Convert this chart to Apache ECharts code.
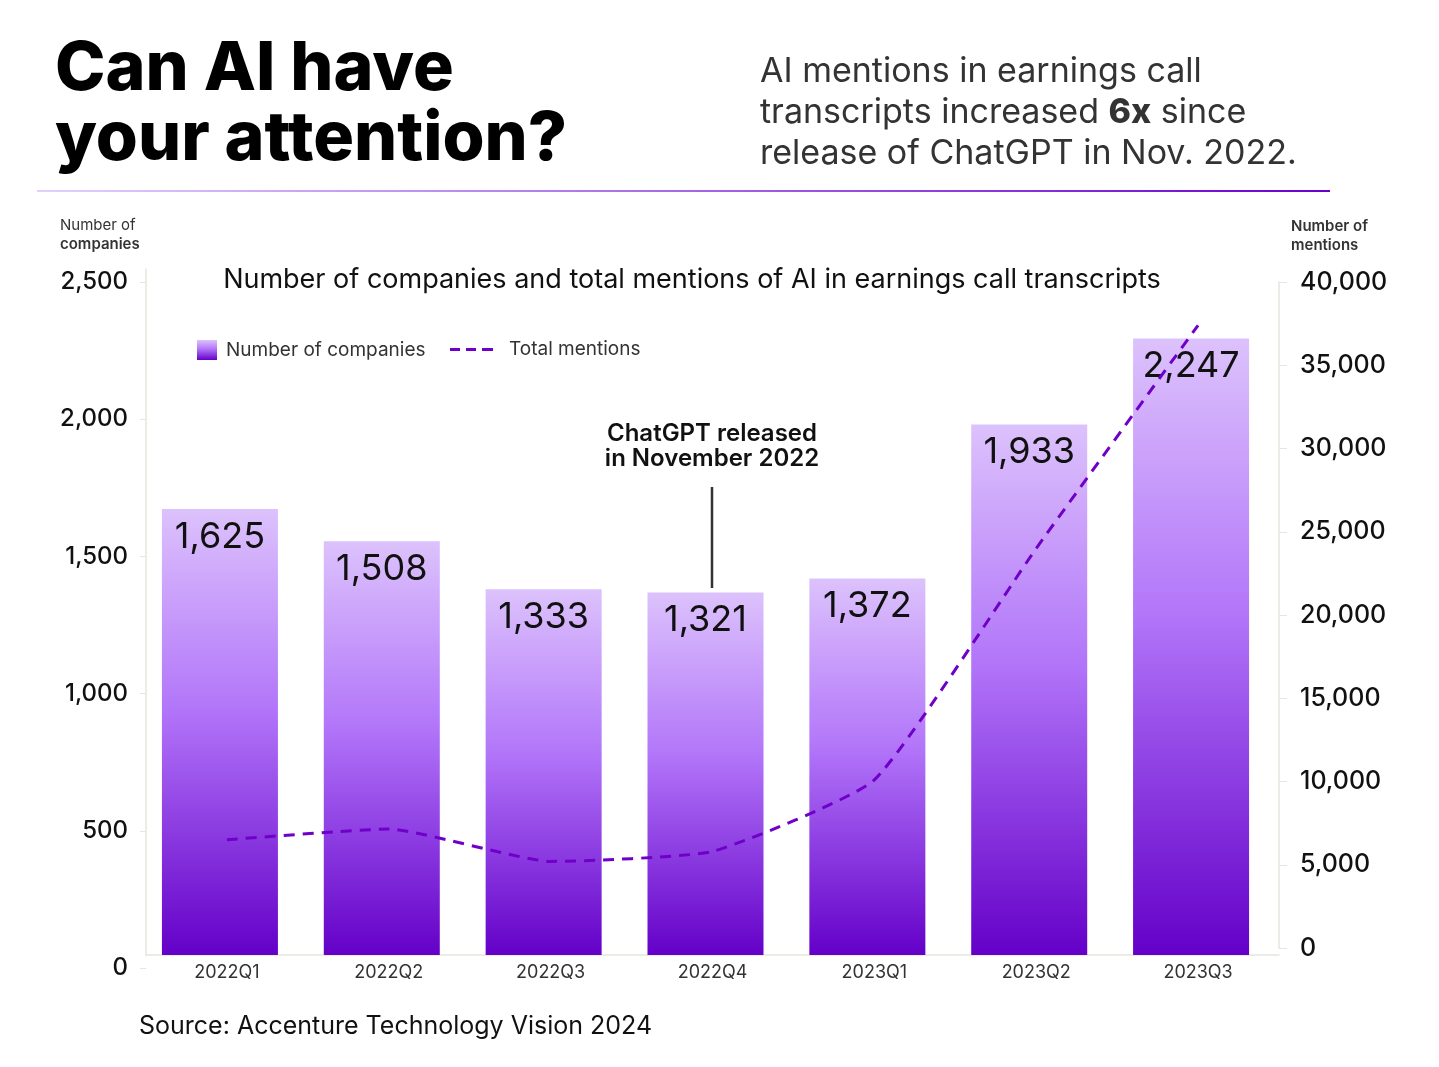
<!DOCTYPE html>
<html>
<head>
<meta charset="utf-8">
<script src="https://cdn.jsdelivr.net/npm/echarts@6/dist/echarts.min.js"></script>
<style>
  html, body { margin: 0; padding: 0; background: #fff; }
  #chart { width: 1439px; height: 1067px; }
</style>
</head>
<body>
<div id="chart"></div>
<script>
// data
var quarters = ['2022Q1', '2022Q2', '2022Q3', '2022Q4', '2023Q1', '2023Q2', '2023Q3']
var companies = [1625, 1508, 1333, 1321, 1372, 1933, 2247]
var mentions = [6500, 7150, 5200, 5800, 10100, 24000, 37400]
var companyTicks = [0, 2500, 500]   // min, max, interval
var mentionTicks = [0, 40000, 5000]

var FONT = 'Inter, "Noto Sans", sans-serif'
var axisGrey = '#e6e6de'
var purple = '#6f00c8'

var barGradient = new echarts.graphic.LinearGradient(0, 0, 0, 1, [
    { offset: 0, color: '#dcc2fc' },
    { offset: 0.45, color: '#b275f9' },
    { offset: 1, color: '#6400c8' }
])

var fmt = function (v) { return v.toLocaleString('en-US') }

var chart = echarts.init(document.getElementById('chart'))

var option = {
    backgroundColor: '#fff',
    textStyle: { fontFamily: FONT },
    grid: [
        // visible frame: x axis + left axis line
        { left: 146, right: 160, top: 269, bottom: 112 },
        // line (right axis)
        { left: 146, right: 160, top: 282, bottom: 119 },
        // left axis labels
        { left: 146, right: 160, top: 282, bottom: 99 },
        // bars, sitting a little left of the category centres as in the original
        { left: 139, right: 167, top: 269, bottom: 112 }
    ],
    legend: [
        {
            left: 192, top: 335,
            itemWidth: 20, itemHeight: 20,
            data: [{ name: 'Number of companies', icon: 'rect' }],
            textStyle: { fontFamily: FONT, fontSize: 19, color: '#333', padding: [0, 0, 0, 4] }
        },
        {
            left: 445, top: 335,
            itemWidth: 43, itemHeight: 3,
            data: [{
                name: 'Total mentions',
                icon: 'path://M0,0h10v3h-10z M16,0h10v3h-10z M32,0h11v3h-11z'
            }],
            textStyle: { fontFamily: FONT, fontSize: 19, color: '#333', padding: [0, 0, 0, 11] }
        }
    ],
    xAxis: [
        {
            type: 'category', gridIndex: 0, data: quarters,
            axisLine: { lineStyle: { color: axisGrey, width: 1.5 } },
            axisTick: { inside: true, length: 17, lineStyle: { color: axisGrey } },
            axisLabel: { margin: 9, fontSize: 18, color: '#333', fontFamily: FONT }
        },
        { type: 'category', gridIndex: 1, data: quarters, show: false },
        { type: 'category', gridIndex: 2, data: quarters, show: false },
        { type: 'category', gridIndex: 3, data: quarters, show: false }
    ],
    yAxis: [
        {
            type: 'value', gridIndex: 0,
            min: companyTicks[0], max: companyTicks[1], interval: companyTicks[2],
            axisLine: { show: true, lineStyle: { color: axisGrey, width: 1.5 } },
            axisTick: { show: false },
            axisLabel: { show: false },
            splitLine: { show: false }
        },
        {
            type: 'value', gridIndex: 1, position: 'right',
            min: mentionTicks[0], max: mentionTicks[1], interval: mentionTicks[2],
            axisLine: { show: true, lineStyle: { color: axisGrey, width: 1.5 } },
            axisTick: { show: true, length: 8, lineStyle: { color: axisGrey } },
            axisLabel: {
                margin: 21, fontSize: 25, fontWeight: 500, color: '#111', fontFamily: FONT,
                formatter: fmt
            },
            splitLine: { show: false }
        },
        {
            type: 'value', gridIndex: 2,
            min: companyTicks[0], max: companyTicks[1], interval: companyTicks[2],
            axisLine: { show: false },
            axisTick: { show: true, length: 6, lineStyle: { color: axisGrey } },
            axisLabel: {
                margin: 18, fontSize: 24, fontWeight: 500, color: '#111', fontFamily: FONT,
                formatter: fmt
            },
            splitLine: { show: false }
        },
        {
            type: 'value', gridIndex: 3, show: false,
            min: companyTicks[0], max: companyTicks[1], interval: companyTicks[2]
        }
    ],
    series: [
        {
            name: 'Number of companies',
            type: 'bar', xAxisIndex: 3, yAxisIndex: 3,
            data: companies,
            barWidth: 116,
            itemStyle: { color: barGradient },
            label: {
                show: true, position: 'insideTop', distance: 10,
                fontSize: 36, color: '#111', fontFamily: FONT,
                formatter: function (p) { return fmt(p.value) }
            },
            z: 2
        },
        {
            name: 'Total mentions',
            type: 'line', xAxisIndex: 1, yAxisIndex: 1,
            data: mentions,
            smooth: 0.15,
            showSymbol: false,
            itemStyle: { color: purple },
            lineStyle: { color: purple, width: 3, type: [11, 8] },
            z: 5
        }
    ],
    graphic: [
        {
            type: 'text', left: 55, top: 35,
            style: {
                text: 'Can AI have\nyour attention?',
                font: '800 68px ' + FONT, fill: '#000', lineHeight: 70
            }
        },
        {
            type: 'text', left: 760, top: 51,
            style: {
                text: 'AI mentions in earnings call\ntranscripts increased {b|6x} since\nrelease of ChatGPT in Nov. 2022.',
                font: '400 34px ' + FONT, fill: '#333', lineHeight: 41,
                rich: { b: { font: '800 34px ' + FONT, fill: '#333' } }
            }
        },
        {
            type: 'rect', shape: { x: 37, y: 190, width: 1293, height: 2 },
            style: {
                fill: new echarts.graphic.LinearGradient(0, 0, 1, 0, [
                    { offset: 0, color: '#e2d0fc' },
                    { offset: 1, color: '#6a00d0' }
                ])
            }
        },
        {
            type: 'text', left: 60, top: 218,
            style: { text: 'Number of', font: '400 15px ' + FONT, fill: '#333' }
        },
        {
            type: 'text', left: 60, top: 237,
            style: { text: 'companies', font: '600 15px ' + FONT, fill: '#333' }
        },
        {
            type: 'text', left: 1291, top: 217,
            style: { text: 'Number of\nmentions', font: '600 15px ' + FONT, fill: '#333', lineHeight: 19 }
        },
        {
            type: 'text', x: 692, y: 280,
            style: {
                text: 'Number of companies and total mentions of AI in earnings call transcripts',
                font: '400 27px ' + FONT, fill: '#111', align: 'center', verticalAlign: 'middle'
            }
        },
        {
            type: 'text', x: 712, y: 446,
            style: {
                text: 'ChatGPT released\nin November 2022',
                font: '600 24px ' + FONT, fill: '#111', align: 'center', verticalAlign: 'middle',
                lineHeight: 25
            }
        },
        {
            type: 'line', shape: { x1: 712, y1: 487, x2: 712, y2: 588 },
            style: { stroke: '#333', lineWidth: 2.5 }
        },
        {
            type: 'text', left: 139, top: 1014,
            style: { text: 'Source: Accenture Technology Vision 2024', font: '400 25px ' + FONT, fill: '#111' }
        }
    ]
}

chart.setOption(option)
</script>
</body>
</html>
